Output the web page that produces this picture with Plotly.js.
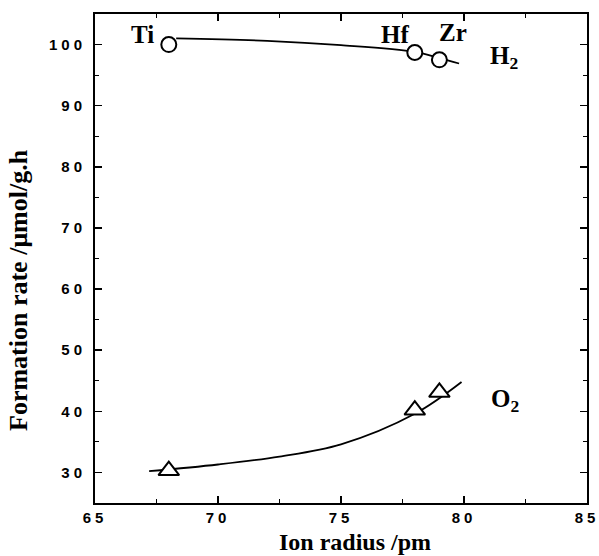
<!DOCTYPE html>
<html><head><meta charset="utf-8">
<script src="https://cdn.plot.ly/plotly-3.0.1.min.js"></script>
<style>body{margin:0;background:#fff}#c{width:599px;height:556px}
.xtick text,.ytick text{letter-spacing:4px}</style>
</head><body><div id="c"></div>
<script>
const metals = ['Ti','Hf','Zr'];
const ionRadius = [68, 78, 79];
const h2Rate = [100.0, 98.7, 97.5];
const o2Rate = [30.3, 40.2, 43.1];
const h2FitX = [68.3, 72, 75, 78, 79, 79.8];
const h2FitY = [101.0, 100.6, 99.9, 98.8, 97.8, 96.9];
const o2FitX = [67.2, 70, 72.5, 75, 78, 79.9];
const o2FitY = [30.2, 31.3, 32.6, 34.6, 39.6, 44.8];
const xTitle = 'Ion radius /pm';
const yTitle = 'Formation rate /μmol/g.h';

const serif = 'Liberation Serif, Times New Roman, serif';
const sans = 'Liberation Sans, Arial, sans-serif';

const traces = [
  {x:h2FitX, y:h2FitY, mode:'lines', line:{color:'#000', width:1.8, shape:'spline'}, hoverinfo:'skip'},
  {x:o2FitX, y:o2FitY, mode:'lines', line:{color:'#000', width:1.8, shape:'spline'}, hoverinfo:'skip'},
  {x:ionRadius, y:h2Rate, mode:'markers', marker:{symbol:'circle', size:15, color:'#fff', line:{color:'#000', width:2}}},
  {x:ionRadius, y:o2Rate, mode:'markers', marker:{symbol:'triangle-up', size:18, color:'#fff', line:{color:'#000', width:2}}}
];

const axBase = {
  showgrid:false, zeroline:false, showline:true, linecolor:'#000', linewidth:2,
  mirror:'allticks', ticks:'inside', ticklen:7, tickwidth:1.5, tickcolor:'#000',
  tickfont:{family:sans, size:15, color:'#000', weight:'bold'},
  ticklabeloverflow:'allow',
  minor:{ticks:'inside', ticklen:4, tickwidth:1, tickcolor:'#000'}
};

const px = v => (v-95)/492, py = v => (503-v)/489;
const annFont = {family:serif, size:25, color:'#000'};
const layout = {
  width:599, height:556, showlegend:false,
  paper_bgcolor:'#fff', plot_bgcolor:'#fff',
  margin:{l:95, r:12, t:14, b:53},
  xaxis:Object.assign({}, axBase, {range:[65,85], dtick:5, tick0:65,
    minor:Object.assign({}, axBase.minor, {dtick:2.5})}),
  yaxis:Object.assign({}, axBase, {range:[25,105], dtick:10, tick0:0, ticklabelstandoff:4,
    minor:Object.assign({}, axBase.minor, {dtick:5})}),
  annotations:[
    {xref:'paper', yref:'paper', x:px(355), y:py(542), xanchor:'center', yanchor:'middle', text:'<b>'+xTitle+'</b>', showarrow:false, font:{family:serif, size:24, color:'#000'}},
    {xref:'paper', yref:'paper', x:px(18), y:py(290), xanchor:'center', yanchor:'middle', textangle:-90, text:'<b>'+yTitle+'</b>', showarrow:false, font:{family:serif, size:26, color:'#000'}},
    {xref:'paper', yref:'paper', x:px(142), y:py(35), xanchor:'center', yanchor:'middle', text:'<b>'+metals[0]+'</b>', showarrow:false, font:annFont},
    {xref:'paper', yref:'paper', x:px(395), y:py(35), xanchor:'center', yanchor:'middle', text:'<b>'+metals[1]+'</b>', showarrow:false, font:annFont},
    {xref:'paper', yref:'paper', x:px(453), y:py(32), xanchor:'center', yanchor:'middle', text:'<b>'+metals[2]+'</b>', showarrow:false, font:annFont},
    {xref:'paper', yref:'paper', x:px(488), y:py(57), xanchor:'left', yanchor:'middle', text:'<b>H<sub>2</sub></b>', showarrow:false, font:annFont},
    {xref:'paper', yref:'paper', x:px(489), y:py(400), xanchor:'left', yanchor:'middle', text:'<b>O<sub>2</sub></b>', showarrow:false, font:annFont}
  ]
};
Plotly.newPlot('c', traces, layout, {staticPlot:true});
</script></body></html>
